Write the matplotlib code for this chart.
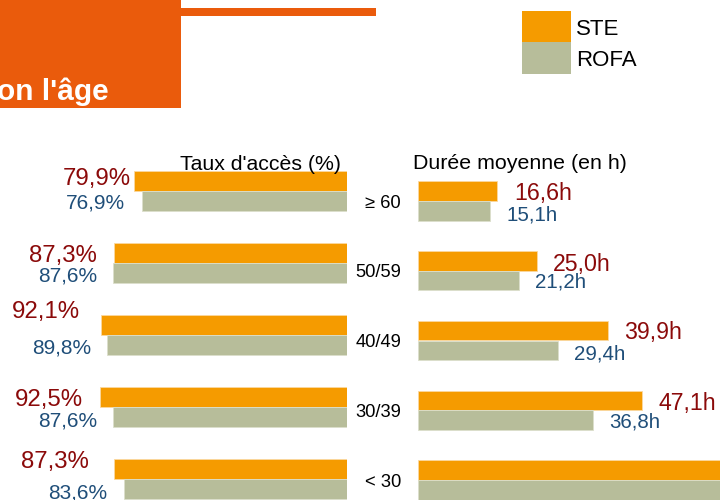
import matplotlib
matplotlib.use("Agg")
import matplotlib.pyplot as plt
from matplotlib.patches import Rectangle

plt.rcParams['font.family'] = ['Liberation Sans', 'DejaVu Sans']

# ---- data ----
categories = ["≥ 60", "50/59", "40/49", "30/39", "< 30"]
acces_ste = [79.9, 87.3, 92.1, 92.5, 87.3]
acces_rofa = [76.9, 87.6, 89.8, 87.6, 83.6]
duree_ste = [16.6, 25.0, 39.9, 47.1, 70.0]   # last value cut off in the reference (estimate)
duree_rofa = [15.1, 21.2, 29.4, 36.8, 65.0]  # last value cut off in the reference (estimate)
series_names = ["STE", "ROFA"]
title_left = "Taux d'accès (%)"
title_right = "Durée moyenne (en h)"
header_text = "on l'âge"

# ---- style ----
C_STE = "#F59B00"
C_ROFA = "#B7BD9A"
C_RED = "#8B0A0A"
C_BLUE = "#1F4E79"
C_HEAD = "#EA5B0C"
W, H, DPI = 720, 500, 100

# label offsets (pixels: gap from bar end, vertical shift downward)
ste_left_gap = [3, 17, 21, 17, 25]
ste_left_dy = [-5, 0, -16, 0, -10]
rofa_left_gap = [17, 16, 16, 16, 17]
rofa_left_dy = [0, 1, 1, 2, 2]
ste_right_gap = [17, 16, 16, 16, 16]
ste_right_dy = [0, 2, 0, 1, 0]
rofa_right_gap = [17, 16, 16, 16, 16]
rofa_right_dy = [2, 0, 2, 0, 0]

fig = plt.figure(figsize=(W / DPI, H / DPI), dpi=DPI)

def fx(px):
    return px / W

def fy(py):
    return 1 - py / H

# header
fig.add_artist(Rectangle((fx(0), fy(108)), fx(181), 108 / H, transform=fig.transFigure,
                         facecolor=C_HEAD, edgecolor='none'))
fig.add_artist(Rectangle((fx(181), fy(16)), fx(376 - 181), 8 / H, transform=fig.transFigure,
                         facecolor=C_HEAD, edgecolor='none'))
fig.text(fx(-3), fy(100), header_text, color='white', fontsize=21.5, fontweight='bold',
         ha='left', va='baseline')

# legend
fig.add_artist(Rectangle((fx(522), fy(42)), fx(49), 31 / H, transform=fig.transFigure,
                         facecolor=C_STE, edgecolor='none'))
fig.add_artist(Rectangle((fx(522), fy(74)), fx(49), 32 / H, transform=fig.transFigure,
                         facecolor=C_ROFA, edgecolor='none'))
fig.text(fx(576), fy(27), series_names[0], fontsize=16, ha='left', va='center_baseline')
fig.text(fx(576), fy(58), series_names[1], fontsize=16, ha='left', va='center_baseline')

# axes
axL = fig.add_axes([0, 0, 347 / W, 1])
axR = fig.add_axes([418 / W, 0, 302 / W, 1])
for ax in (axL, axR):
    ax.set_axis_off()
    ax.patch.set_alpha(0)

hL = 0.28
axL.set_xlim(347 / 2.67, 0)
axL.set_ylim((500 - 191) / 72, -191 / 72)
hR = 0.28
axR.set_xlim(0, 302 / 4.76)
axR.set_ylim((500 - 201) / 69.75, -201 / 69.75)

y = list(range(len(categories)))
axL.barh([v - hL / 2 for v in y], acces_ste, height=hL, color=C_STE, edgecolor='#FBD9A0', linewidth=0.6)
axL.barh([v + hL / 2 for v in y], acces_rofa, height=hL, color=C_ROFA, edgecolor='#DCDFCB', linewidth=0.6)
axR.barh([v - hR / 2 for v in y], duree_ste, height=hR, color=C_STE, edgecolor='#FBD9A0', linewidth=0.6)
axR.barh([v + hR / 2 for v in y], duree_rofa, height=hR, color=C_ROFA, edgecolor='#DCDFCB', linewidth=0.6)

def fmt(v, unit):
    return f"{v:.1f}".replace('.', ',') + unit

def lab(ax, x, yy, text, gap, dy, fs, color, ha):
    # labels of bars running past the visible area are off-canvas in the reference
    if x > max(ax.get_xlim()):
        return
    fs_px = fs * DPI / 72
    ox = -gap if ha == 'right' else gap
    oy = -dy - 0.36 * fs_px
    ax.annotate(text, xy=(x, yy), xytext=(ox, oy), textcoords='offset pixels',
                ha=ha, va='baseline', fontsize=fs, color=color, annotation_clip=False)

for i in y:
    lab(axL, acces_ste[i], i - hL / 2, fmt(acces_ste[i], '%'), ste_left_gap[i], ste_left_dy[i], 17.3, C_RED, 'right')
    lab(axL, acces_rofa[i], i + hL / 2, fmt(acces_rofa[i], '%'), rofa_left_gap[i], rofa_left_dy[i], 15, C_BLUE, 'right')
    lab(axR, duree_ste[i], i - hR / 2, fmt(duree_ste[i], 'h'), ste_right_gap[i], ste_right_dy[i], 16.7, C_RED, 'left')
    lab(axR, duree_rofa[i], i + hR / 2, fmt(duree_rofa[i], 'h'), rofa_right_gap[i], rofa_right_dy[i], 14.8, C_BLUE, 'left')
    fs = 13.2
    axR.annotate(categories[i], xy=(0, i), xytext=(-17, -0.36 * fs * DPI / 72),
                 textcoords='offset pixels', ha='right', va='baseline', fontsize=fs,
                 annotation_clip=False)

fig.text(fx(341), fy(162), title_left, fontsize=15.3, ha='right', va='center_baseline', zorder=0)
fig.text(fx(413), fy(161), title_right, fontsize=15.4, ha='left', va='center_baseline')

fig.savefig("out.png", dpi=DPI)
